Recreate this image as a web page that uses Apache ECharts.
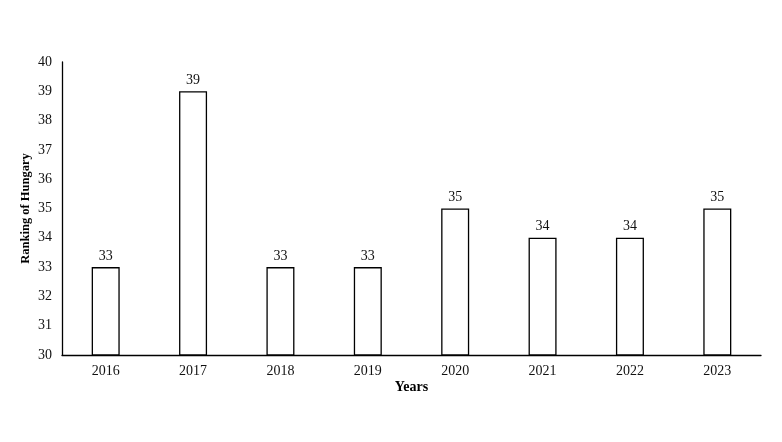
<!DOCTYPE html>
<html><head><meta charset="utf-8">
<script src="https://cdn.jsdelivr.net/npm/echarts@6/dist/echarts.min.js"></script>
<style>html,body{margin:0;padding:0;background:#fff}#c{width:782px;height:442px}</style>
</head><body><div id="c"></div>
<script>
const years = ['2016','2017','2018','2019','2020','2021','2022','2023'];
const rankings = [33, 39, 33, 33, 35, 34, 34, 35];
const yTicks = {min: 30, max: 40, interval: 1};
const font = '"Liberation Serif", "Times New Roman", serif';
const chart = echarts.init(document.getElementById('c'));
chart.setOption({
  animation: false,
  backgroundColor: '#fff',
  grid: {left: 62, right: 21, top: 62, bottom: 87},
  xAxis: {
    type: 'category', data: years,
    name: 'Years', nameLocation: 'middle', nameGap: 25, nameMoveOverlap: false,
    nameTextStyle: {fontFamily: font, fontWeight: 'bold', fontSize: 14, color: '#000'},
    axisLine: {lineStyle: {color: '#000', width: 1.3}},
    axisTick: {show: false},
    axisLabel: {fontFamily: font, fontSize: 14, color: '#111', margin: 9}
  },
  yAxis: {
    type: 'value', min: yTicks.min, max: yTicks.max, interval: yTicks.interval,
    name: 'Ranking of Hungary', nameLocation: 'middle', nameGap: 30, nameMoveOverlap: false,
    nameTextStyle: {fontFamily: font, fontWeight: 'bold', fontSize: 12.5, color: '#000'},
    axisLine: {show: true, lineStyle: {color: '#000', width: 1.3}},
    axisTick: {show: false},
    splitLine: {show: false},
    axisLabel: {fontFamily: font, fontSize: 14, color: '#111', margin: 10}
  },
  series: [{
    type: 'bar', data: rankings, barWidth: 28,
    itemStyle: {color: '#fff', borderColor: '#000', borderWidth: 1.3},
    label: {show: true, position: 'top', distance: 4, fontFamily: font, fontSize: 14, color: '#111'}
  }]
});
</script></body></html>
